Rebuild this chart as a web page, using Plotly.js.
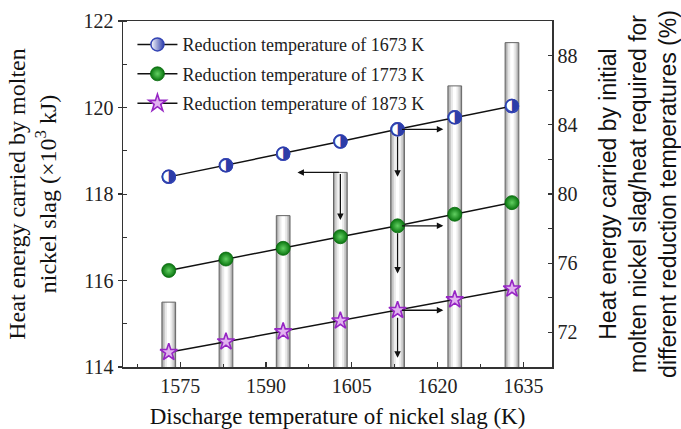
<!DOCTYPE html>
<html>
<head>
<meta charset="utf-8">
<script src="https://cdn.plot.ly/plotly-3.0.1.min.js"></script>
<style>html,body{margin:0;padding:0;background:#fff;}#chart{width:681px;height:429px;}</style>
</head>
<body>
<div id="chart"></div>
<script>
// Discharge temperature of nickel slag (K)
const dischargeT = [1573, 1583, 1593, 1603, 1613, 1623, 1633];
// Heat energy carried by molten nickel slag (x10^3 kJ) - bars, left axis
const heatEnergy = [115.5, 116.5, 117.5, 118.5, 119.5, 120.5, 121.5];
// Ratio (%) for different reduction temperatures - right axis
const ratio1673 = [80.99, 81.66, 82.32, 83.03, 83.74, 84.43, 85.08];
const ratio1773 = [75.58, 76.24, 76.86, 77.53, 78.16, 78.83, 79.50];
const ratio1873 = [70.85, 71.46, 72.04, 72.67, 73.28, 73.89, 74.52];
const seriesNames = ['Reduction temperature of 1673 K', 'Reduction temperature of 1773 K', 'Reduction temperature of 1873 K'];
const xTickVals = [1575, 1590, 1605, 1620, 1635];

const SERIF = 'Liberation Serif';
const SANS = 'Liberation Sans';

// cylinder-like bars: stacked overlay layers
const barLayers = [
  {w: 2.4, c: '#a0a0a0'},
  {w: 1.9, c: '#cbcbcb'},
  {w: 1.3, c: '#ebebeb'},
  {w: 0.6, c: '#ffffff'}
];
const traces = [];
barLayers.forEach(L => {
  traces.push({type: 'bar', x: dischargeT, y: heatEnergy, width: L.w, yaxis: 'y',
    marker: {color: L.c, line: {width: 0}}, showlegend: false, hoverinfo: 'skip'});
});
traces.push({type: 'bar', x: dischargeT, y: heatEnergy, width: 2.4, yaxis: 'y',
  marker: {color: 'rgba(0,0,0,0)', line: {width: 1, color: '#666666'}}, showlegend: false, hoverinfo: 'skip'});

traces.push({type: 'scatter', mode: 'lines+markers', x: dischargeT, y: ratio1673, yaxis: 'y2',
  name: seriesNames[0], legendgroup: 'a',
  line: {color: '#111', width: 1.5},
  marker: {symbol: 'circle', size: 13, color: '#ffffff', gradient: {type: 'horizontal', color: '#2c3ca8'},
    line: {color: '#3444b4', width: 1.5}}});
// half-filled look inside the plot: white disc + right-half glyph
traces.push({type: 'scatter', mode: 'markers', x: dischargeT, y: ratio1673, yaxis: 'y2', showlegend: false,
  hoverinfo: 'skip', marker: {symbol: 'circle', size: 13, color: '#ffffff', line: {color: '#3444b4', width: 1.5}}});
traces.push({type: 'scatter', mode: 'text', x: dischargeT, y: ratio1673, yaxis: 'y2', showlegend: false,
  hoverinfo: 'skip', text: dischargeT.map(() => '\u25D1'), textposition: 'middle center',
  textfont: {family: 'DejaVu Sans', size: 17, color: '#2c3ca8'}});

traces.push({type: 'scatter', mode: 'lines+markers', x: dischargeT, y: ratio1773, yaxis: 'y2',
  name: seriesNames[1], legendgroup: 'b',
  line: {color: '#111', width: 1.5},
  marker: {symbol: 'circle', size: 14, color: '#08740e', gradient: {type: 'radial', color: '#62cf62'},
    line: {color: '#076a0c', width: 0.8}}});
traces.push({type: 'scatter', mode: 'lines+markers', x: dischargeT, y: ratio1873, yaxis: 'y2',
  name: seriesNames[2], legendgroup: 'c',
  line: {color: '#111', width: 1.5},
  marker: {symbol: 'star', size: 13, color: '#e2b3f0', line: {color: '#9626c4', width: 1.6}}});

// arrows
const arrowBase = {text: '', showarrow: true, arrowhead: 2, arrowsize: 1, arrowwidth: 1.3, arrowcolor: '#111'};
const annotations = [];
const i4 = 3, i5 = 4;
annotations.push(Object.assign({}, arrowBase, {xref: 'x', yref: 'y', axref: 'x', ayref: 'y',
  x: dischargeT[i4] - 7.5, y: heatEnergy[i4], ax: dischargeT[i4], ay: heatEnergy[i4]}));
annotations.push(Object.assign({}, arrowBase, {xref: 'x', yref: 'y', axref: 'x', ayref: 'y',
  x: dischargeT[i4], y: heatEnergy[i4] - 1.1, ax: dischargeT[i4], ay: heatEnergy[i4]}));
[ratio1673, ratio1773, ratio1873].forEach(s => {
  annotations.push(Object.assign({}, arrowBase, {xref: 'x', yref: 'y2', axref: 'x', ayref: 'y2',
    x: dischargeT[i5] + 8, y: s[i5], ax: dischargeT[i5], ay: s[i5], startstandoff: 3}));
  annotations.push(Object.assign({}, arrowBase, {xref: 'x', yref: 'y2', axref: 'x', ayref: 'y2',
    x: dischargeT[i5], y: s[i5] - 2.75, ax: dischargeT[i5], ay: s[i5], startstandoff: 6}));
});

const axisCommon = {showline: true, linecolor: '#333', linewidth: 1.5, showgrid: false, zeroline: false,
  tickcolor: '#333', tickwidth: 1.2, tickfont: {family: SERIF, size: 20, color: '#222'}};

const layout = {
  width: 681, height: 429,
  margin: {l: 123, r: 129, t: 21, b: 62},
  paper_bgcolor: '#ffffff', plot_bgcolor: '#ffffff',
  barmode: 'overlay',
  showlegend: true,
  legend: {x: 0.022, y: 0.985, xanchor: 'left', yanchor: 'top', bgcolor: 'rgba(0,0,0,0)',
    font: {family: SERIF, size: 18, color: '#222'}, traceorder: 'grouped', tracegroupgap: 3, itemwidth: 40},
  xaxis: Object.assign({}, axisCommon, {range: [1565, 1640], tickmode: 'array', tickvals: xTickVals,
    ticks: 'inside', ticklen: 5, mirror: true,
    minor: {dtick: 7.5, tick0: 1567.5, ticks: 'inside', ticklen: 3, tickcolor: '#333', tickwidth: 1},
    title: {text: 'Discharge temperature of nickel slag (K)', font: {family: SERIF, size: 23, color: '#111'}}}),
  yaxis: Object.assign({}, axisCommon, {range: [114, 122], dtick: 2, tick0: 114, ticks: 'outside', ticklen: 4, mirror: true,
    minor: {dtick: 1, ticks: 'inside', ticklen: 4, tickcolor: '#333', tickwidth: 1},
    title: {text: 'Heat energy carried by molten<br>nickel slag (×10<sup>3</sup> kJ)', standoff: 20,
      font: {family: SERIF, size: 24, color: '#111'}}}),
  yaxis2: Object.assign({}, axisCommon, {overlaying: 'y', side: 'right', range: [70, 90], dtick: 4, tick0: 0,
    ticks: 'inside', ticklen: 4,
    minor: {dtick: 2, ticks: 'inside', ticklen: 4, tickcolor: '#333', tickwidth: 1},
    title: {text: 'Heat energy carried by initial<br>molten nickel slag/heat required for<br>different reduction temperatures (%)', font: {family: SANS, size: 23, color: '#111'}}}),
  annotations: annotations
};

Plotly.newPlot('chart', traces, layout, {displayModeBar: false, staticPlot: true});
</script>
</body>
</html>
